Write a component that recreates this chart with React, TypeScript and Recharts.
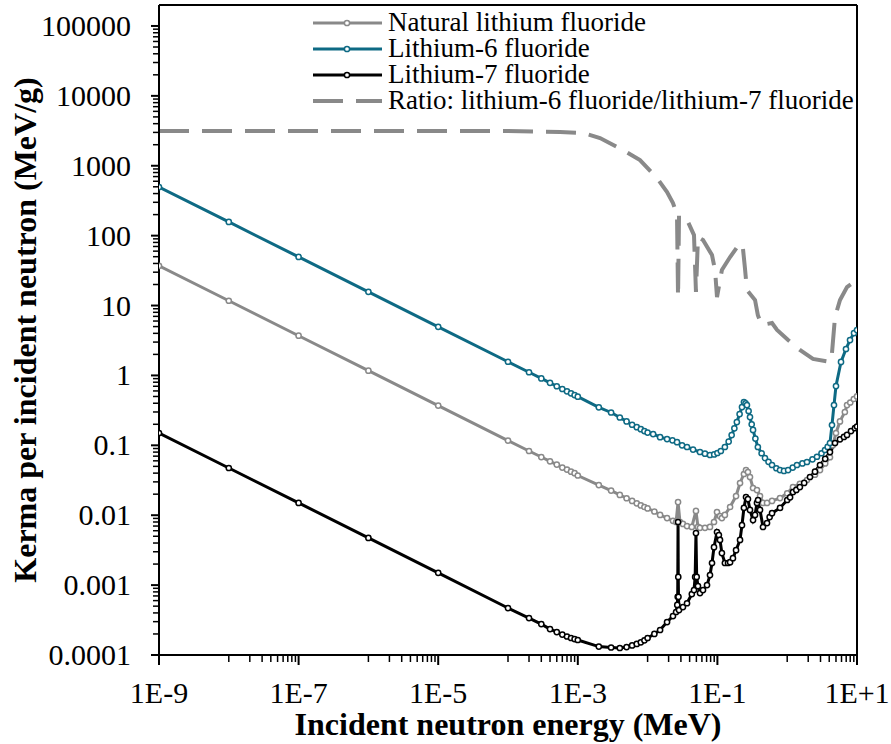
import React from "react";
import { LineChart, Line, XAxis, YAxis, ReferenceLine } from "recharts";

// ---- data: [energy (MeV), value] ----
const naturalLiF: [number, number][] = [
  [1e-9, 37], [1e-8, 11.7], [1e-7, 3.7], [1e-6, 1.17], [1e-5, 0.37], [1e-4, 0.117],
  [2e-4, 0.083], [3e-4, 0.068], [4e-4, 0.059], [5e-4, 0.053], [6e-4, 0.048], [7e-4, 0.045],
  [8e-4, 0.042], [9e-4, 0.04], [1e-3, 0.037], [2e-3, 0.027], [3e-3, 0.0225], [4e-3, 0.0195],
  [5e-3, 0.0175], [6e-3, 0.016], [7e-3, 0.0148], [8e-3, 0.0138], [9e-3, 0.0131], [1e-2, 0.0125],
  [0.0125, 0.0113], [0.0151, 0.0101], [0.019, 0.0091], [0.0231, 0.0083], [0.0256, 0.008],
  [0.0273, 0.0154], [0.0291, 0.008], [0.0321, 0.0075], [0.0367, 0.007], [0.043, 0.0068],
  [0.0493, 0.0115], [0.0527, 0.0068], [0.0563, 0.0066], [0.0664, 0.0066], [0.0783, 0.0068],
  [0.0894, 0.008], [0.0987, 0.0111], [0.109, 0.0097], [0.116, 0.0091], [0.128, 0.0101],
  [0.152, 0.0131], [0.185, 0.0188], [0.211, 0.0289], [0.24, 0.0389], [0.257, 0.0443],
  [0.274, 0.0415], [0.293, 0.0352], [0.324, 0.0245], [0.369, 0.0229], [0.408, 0.0188],
  [0.45, 0.015], [0.514, 0.015], [0.606, 0.016], [0.789, 0.0176], [1.0, 0.0206], [1.21, 0.0253],
  [1.52, 0.028], [1.92, 0.0319], [2.5, 0.038], [2.95, 0.0443], [3.5, 0.055], [4.1, 0.0675],
  [4.5, 0.1], [5.0, 0.15], [5.7, 0.22], [6.7, 0.3], [7.2, 0.377], [8.0, 0.41], [9.0, 0.46], [10, 0.5],
];

const lithium6LiF: [number, number][] = [
  [1e-9, 496], [1e-8, 157], [1e-7, 49.6], [1e-6, 15.7], [1e-5, 4.96], [1e-4, 1.57],
  [2e-4, 1.11], [3e-4, 0.905], [4e-4, 0.784], [5e-4, 0.7], [6e-4, 0.64], [7e-4, 0.593],
  [8e-4, 0.555], [9e-4, 0.523], [1e-3, 0.496], [2e-3, 0.35], [3e-3, 0.295], [4e-3, 0.25],
  [5e-3, 0.22], [6e-3, 0.197], [7e-3, 0.182], [8e-3, 0.17], [9e-3, 0.16], [1e-2, 0.152],
  [0.012, 0.145], [0.0151, 0.131], [0.019, 0.123], [0.0227, 0.118], [0.0264, 0.111],
  [0.0312, 0.1], [0.0367, 0.0946], [0.0448, 0.087], [0.0563, 0.0802], [0.0664, 0.076],
  [0.0783, 0.0727], [0.09, 0.074], [0.1, 0.0776], [0.112, 0.083], [0.128, 0.0946],
  [0.145, 0.113], [0.16, 0.14], [0.175, 0.175], [0.19, 0.215], [0.208, 0.28], [0.225, 0.353],
  [0.24, 0.416], [0.253, 0.4], [0.265, 0.377], [0.28, 0.31], [0.293, 0.254], [0.31, 0.2],
  [0.324, 0.166], [0.35, 0.125], [0.38, 0.0946], [0.43, 0.077], [0.48, 0.0658], [0.54, 0.058],
  [0.606, 0.0523], [0.7, 0.047], [0.789, 0.0443], [0.9, 0.043], [1.03, 0.0443], [1.2, 0.048],
  [1.38, 0.0523], [1.65, 0.055], [1.92, 0.0577], [2.3, 0.063], [2.67, 0.0686], [3.1, 0.077],
  [3.48, 0.0857], [3.8, 0.095], [4.1, 0.108], [4.38, 0.195], [4.68, 0.377], [5.0, 0.705],
  [5.9, 1.56], [6.95, 2.39], [7.94, 3.21], [9.06, 4.04], [10, 4.46],
];

const lithium7LiF: [number, number][] = [
  [1e-9, 0.15], [1e-8, 0.0474], [1e-7, 0.015], [1e-6, 0.00474], [1e-5, 0.0015], [1e-4, 0.00047],
  [2e-4, 0.000337], [3e-4, 0.000277], [4e-4, 0.000235], [5e-4, 0.000213], [6e-4, 0.000196],
  [7e-4, 0.000184], [8e-4, 0.000175], [9e-4, 0.000169], [1e-3, 0.000164], [2e-3, 0.000132],
  [3e-3, 0.000128], [4e-3, 0.000126], [5e-3, 0.00013], [6e-3, 0.000137], [7e-3, 0.000144],
  [8e-3, 0.000152], [9e-3, 0.000162], [1e-2, 0.000175], [0.0125, 0.0002], [0.0151, 0.000228],
  [0.019, 0.000296], [0.0231, 0.000361], [0.0256, 0.000412], [0.0266, 0.00052], [0.027, 0.00068],
  [0.0273, 0.008], [0.0275, 0.00131], [0.0277, 0.00068], [0.0282, 0.00044], [0.0321, 0.000485],
  [0.0367, 0.00055], [0.043, 0.000745], [0.0462, 0.00085], [0.048, 0.00131], [0.0493, 0.00556],
  [0.0505, 0.00131], [0.0527, 0.00097], [0.0563, 0.00077], [0.0622, 0.00085], [0.071, 0.001],
  [0.0783, 0.00139], [0.0837, 0.00207], [0.0894, 0.00349], [0.0987, 0.00575], [0.105, 0.0052],
  [0.109, 0.00443], [0.116, 0.00287], [0.128, 0.00207], [0.142, 0.00207], [0.152, 0.00213],
  [0.167, 0.00243], [0.185, 0.00316], [0.211, 0.00443], [0.225, 0.00721], [0.24, 0.0127],
  [0.257, 0.0182], [0.274, 0.017], [0.293, 0.0119], [0.324, 0.00853], [0.346, 0.0101],
  [0.369, 0.015], [0.382, 0.0165], [0.408, 0.0119], [0.45, 0.00678], [0.514, 0.00772],
  [0.56, 0.00942], [0.606, 0.0107], [0.789, 0.0127], [1.0, 0.0165], [1.1, 0.018], [1.21, 0.0214],
  [1.35, 0.023], [1.52, 0.0253], [1.75, 0.029], [2.12, 0.0352], [2.5, 0.042], [2.95, 0.0523],
  [3.5, 0.064], [4.1, 0.0801], [4.84, 0.108], [5.7, 0.122], [6.5, 0.132], [7.19, 0.141],
  [8.2, 0.16], [9.36, 0.176], [10, 0.186],
];

const ratio6to7: [number, number][] = [
  [1e-9, 3135], [1e-4, 3135], [5.56e-4, 3035], [1.19e-3, 2940], [2.08e-3, 2490], [4.44e-3, 1678],
  [7.78e-3, 1207], [0.0136, 667], [0.019, 421], [0.0231, 292], [0.0256, 218], [0.0264, 185],
  [0.0273, 13.2], [0.0282, 197], [0.0379, 157], [0.0462, 102], [0.0493, 15.6], [0.0527, 95.5],
  [0.0622, 86.5], [0.0837, 52.7], [0.0925, 32.2], [0.0987, 13.2], [0.116, 32.2], [0.152, 49.4],
  [0.211, 78.4], [0.232, 66.5], [0.248, 34.4], [0.265, 16.7], [0.346, 12.0], [0.38, 7.3],
  [0.43, 5.26], [0.606, 5.62], [0.715, 4.47], [1.03, 3.21], [1.52, 2.31], [2.34, 1.72],
  [4.1, 1.56], [4.38, 2.09], [4.84, 6.84], [5.71, 12.0], [7.19, 18.4], [10, 23.2],
];

const seriesNames = [
  "Natural lithium fluoride",
  "Lithium-6 fluoride",
  "Lithium-7 fluoride",
  "Ratio: lithium-6 fluoride/lithium-7 fluoride",
];
const seriesColors = ["#898989", "#0E6A84", "#000000", "#898989"];

const xLabeledTicks = [1e-9, 1e-7, 1e-5, 1e-3, 1e-1, 1e1];
const xTickLabels = ["1E-9", "1E-7", "1E-5", "1E-3", "1E-1", "1E+1"];
const yTickLabels = ["0.0001", "0.001", "0.01", "0.1", "1", "10", "100", "1000", "10000", "100000"];
const xTitle = "Incident neutron energy (MeV)";
const yTitle = "Kerma per incident neutron (MeV/g)";

// ---- axis tick positions ----
const xMinorTicks: number[] = [];
for (let i = 0; i < xLabeledTicks.length - 1; i++) {
  const base = xLabeledTicks[i] * 10;
  for (let k = 1; k <= 9; k++) xMinorTicks.push(+(base * k).toPrecision(6));
}
const xTicks = [...xLabeledTicks, ...xMinorTicks].sort((a, b) => a - b);

const yMajor = yTickLabels.map((s) => parseFloat(s));
const yTicks: number[] = [];
for (let i = 0; i < yMajor.length; i++) {
  yTicks.push(yMajor[i]);
  if (i < yMajor.length - 1) for (let k = 2; k <= 9; k++) yTicks.push(+(yMajor[i] * k).toPrecision(6));
}

const toRows = (arr: [number, number][]) => arr.map(([e, v]) => ({ e, v }));

const FONT = '"Liberation Serif", "Times New Roman", "DejaVu Serif", serif';
const textStyle = (size: number, bold = false): React.CSSProperties => ({
  fontFamily: FONT,
  fontSize: size,
  fontWeight: bold ? 700 : 400,
});
const Y_TOP = Math.pow(10, 5.3);

const sameLog = (a: number, b: number) => Math.abs(Math.log10(a) - Math.log10(b)) < 1e-6;

const XTick = (props: any) => {
  const { x, y, payload } = props;
  const v = payload.value;
  const idx = xLabeledTicks.findIndex((m) => sameLog(m, v));
  if (idx >= 0) {
    return (
      <g>
        <line x1={x} x2={x} y1={y} y2={y + 10} stroke="#000" strokeWidth={2} />
        <text x={x} y={y + 48} textAnchor="middle" style={textStyle(30)} fill="#000">
          {xTickLabels[idx]}
        </text>
      </g>
    );
  }
  return <line x1={x} x2={x} y1={y} y2={y + 7} stroke="#000" strokeWidth={1.5} />;
};

const YTick = (props: any) => {
  const { x, y, payload } = props;
  const v = payload.value;
  const idx = yMajor.findIndex((m) => sameLog(m, v));
  if (idx >= 0) {
    return (
      <g>
        <line x1={x - 8} x2={x} y1={y} y2={y} stroke="#000" strokeWidth={2} />
        <text x={x - 28} y={y + 10} textAnchor="end" style={textStyle(30)} fill="#000">
          {yTickLabels[idx]}
        </text>
      </g>
    );
  }
  return <line x1={x - 6} x2={x} y1={y} y2={y} stroke="#000" strokeWidth={1.5} />;
};

const Legend = () => {
  const rowsY = [23, 49, 75, 101];
  return (
    <g>
      {seriesNames.map((name, i) => {
        const y = rowsY[i];
        const c = seriesColors[i];
        const dashed = i === 3;
        return (
          <g key={name}>
            <line
              x1={313}
              x2={382}
              y1={y}
              y2={y}
              stroke={c}
              strokeWidth={dashed ? 4 : 3}
              strokeDasharray={dashed ? "30 13" : undefined}
            />
            {!dashed && <circle cx={347} cy={y} r={2.6} fill="#fff" stroke={c} strokeWidth={1.5} />}
            <text x={388} y={y + 8} style={textStyle(27)} fill="#000">
              {name}
            </text>
          </g>
        );
      })}
    </g>
  );
};

export default function App() {
  const dot = (c: string) => ({ r: 2.6, fill: "#fff", stroke: c, strokeWidth: 1.5 });
  return (
    <div style={{ position: "absolute", left: 0, top: 0, width: 891, height: 744, background: "#fff" }}>
      <LineChart width={891} height={744} margin={{ top: 5, right: 34, bottom: 0, left: 0 }}>
        <XAxis
          dataKey="e"
          type="number"
          scale="log"
          domain={[1e-9, 10]}
          allowDataOverflow
          ticks={xTicks}
          interval={0}
          tick={<XTick />}
          tickLine={false}
          tickSize={0}
          tickMargin={0}
          height={89}
          axisLine={{ stroke: "#000", strokeWidth: 2 }}
        />
        <YAxis
          type="number"
          scale="log"
          domain={[1e-4, Y_TOP]}
          allowDataOverflow
          ticks={yTicks}
          interval={0}
          tick={<YTick />}
          tickLine={false}
          tickSize={0}
          tickMargin={0}
          width={159}
          axisLine={{ stroke: "#000", strokeWidth: 2 }}
        />
        <ReferenceLine y={Y_TOP} stroke="#000" strokeWidth={2} />
        <ReferenceLine x={10} stroke="#000" strokeWidth={2} />
        <Line
          data={toRows(naturalLiF)}
          dataKey="v"
          name={seriesNames[0]}
          stroke={seriesColors[0]}
          strokeWidth={3}
          dot={dot(seriesColors[0])}
          activeDot={false}
          isAnimationActive={false}
        />
        <Line
          data={toRows(lithium6LiF)}
          dataKey="v"
          name={seriesNames[1]}
          stroke={seriesColors[1]}
          strokeWidth={3}
          dot={dot(seriesColors[1])}
          activeDot={false}
          isAnimationActive={false}
        />
        <Line
          data={toRows(lithium7LiF)}
          dataKey="v"
          name={seriesNames[2]}
          stroke={seriesColors[2]}
          strokeWidth={3}
          dot={dot(seriesColors[2])}
          activeDot={false}
          isAnimationActive={false}
        />
        <Line
          data={toRows(ratio6to7)}
          dataKey="v"
          name={seriesNames[3]}
          stroke={seriesColors[3]}
          strokeWidth={4}
          strokeDasharray="30 13"
          dot={false}
          activeDot={false}
          isAnimationActive={false}
        />
        <Legend />
        <text x={508} y={735} textAnchor="middle" style={textStyle(32, true)} fill="#000">
          {xTitle}
        </text>
        <text
          x={36}
          y={330}
          textAnchor="middle"
          style={textStyle(32, true)}
          fill="#000"
          transform="rotate(-90, 36, 330)"
        >
          {yTitle}
        </text>
      </LineChart>
    </div>
  );
}
